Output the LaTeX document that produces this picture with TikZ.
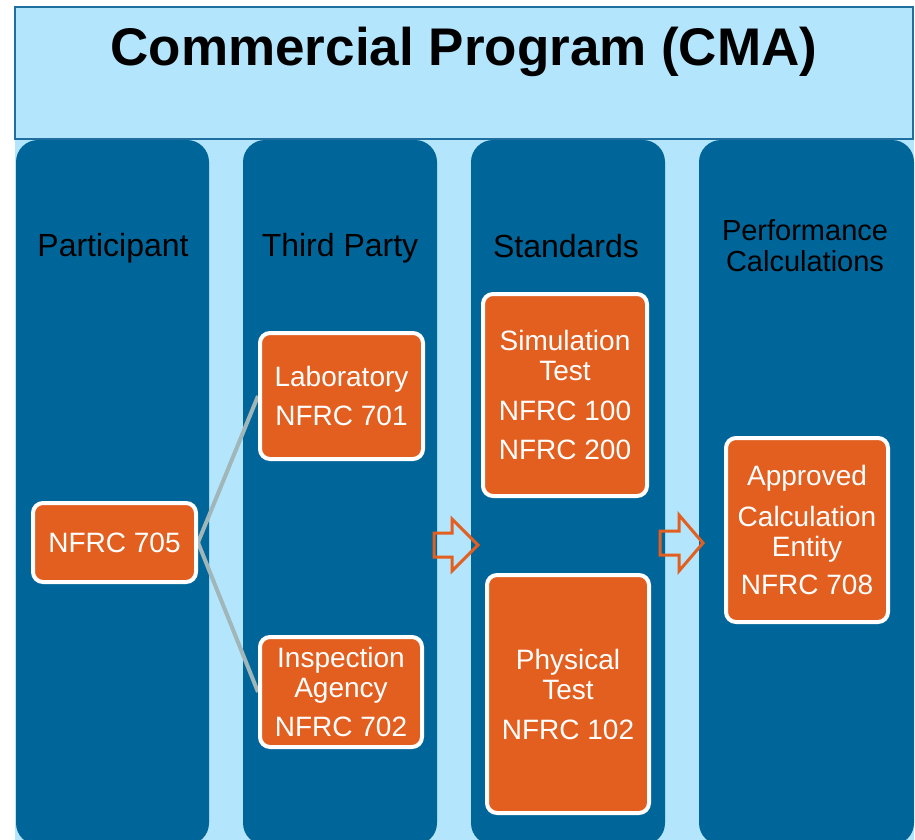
\documentclass[tikz,border=0pt]{standalone}
\usepackage{fontspec}
\setmainfont{Liberation Sans}
\definecolor{darkblue}{RGB}{0,101,153}
\definecolor{lightblue}{RGB}{179,229,252}
\definecolor{orangebox}{RGB}{227,95,32}
\definecolor{greyline}{RGB}{160,182,184}
\definecolor{titleline}{RGB}{31,110,160}
\pgfdeclarelayer{back}
\pgfdeclarelayer{mid}
\pgfsetlayers{back,mid,main}
\tikzset{
  column/.style={fill=darkblue, draw=none, rounded corners=22pt},
  header/.style={text=black, align=center, font=\fontsize{32}{31}\selectfont, inner sep=0pt},
  obox/.style={fill=orangebox, draw=white, line width=4pt, rounded corners=10pt,
    text=white, align=center, font=\fontsize{28}{30}\selectfont, inner sep=0pt},
  link/.style={draw=greyline, line width=4pt},
  blockarrow/.style={draw=orangebox, line width=3pt, line join=miter, fill=none},
}
\begin{document}
\begin{tikzpicture}[x=1pt,y=-1pt]
\useasboundingbox (0,0) rectangle (915,840);
\begin{pgfonlayer}{back}
% background
\fill[lightblue] (15,139) rectangle (914,845);
% title box
\draw[fill=lightblue, draw=titleline, line width=1.5pt] (15,7) rectangle (913,139);
% columns
\path[column] (16,140) rectangle (209,845);
\path[column] (243,140) rectangle (437,845);
\path[column] (471,140) rectangle (665,845);
\path[column] (699,140) rectangle (914,845);
\end{pgfonlayer}
\node[font=\fontsize{53}{60}\selectfont\bfseries, inner sep=0pt] (title) at (464,52) {Commercial Program (CMA)};
% headers
\node[header] (h1) at (113,248) {Participant};
\node[header] (h2) at (340,248) {Third Party};
\node[header] (h3) at (566,246) {Standards};
\node[header, font=\fontsize{29}{31}\selectfont] (h4) at (805,246) {Performance\\Calculations};
% boxes
\node[obox, minimum width=163pt, minimum height=79pt] (n705) at (114.5,542.5) {NFRC 705};
\node[obox, minimum width=163pt, minimum height=126pt] (lab) at (341.5,396) {Laboratory\\[9pt]NFRC 701};
\node[obox, minimum width=162pt, minimum height=110pt] (insp) at (341,692) {Inspection\\Agency\\[9pt]NFRC 702};
\node[obox, minimum width=164pt, minimum height=202pt] (sim) at (565,395) {Simulation\\Test\\[10pt]NFRC 100\\[9pt]NFRC 200};
\node[obox, minimum width=162pt, minimum height=238pt] (phys) at (568,694) {Physical\\Test\\[10pt]NFRC 102};
\node[obox, minimum width=162pt, minimum height=184pt] (ace) at (807,530) {Approved\\[11pt]Calculation\\Entity\\[8pt]NFRC 708};
% connectors
\begin{pgfonlayer}{mid}
\draw[link] (n705.east) -- (lab.west);
\draw[link] (n705.east) -- (insp.west);
\end{pgfonlayer}
% block arrows
\draw[blockarrow] (434,533) -- (452,533) -- (452,519) -- (478,545) -- (452,571) -- (452,557) -- (434,557) -- cycle;
\draw[blockarrow] (660,531) -- (679,531) -- (679,515) -- (703,543) -- (679,571) -- (679,555) -- (660,555) -- cycle;
\end{tikzpicture}
\end{document}
